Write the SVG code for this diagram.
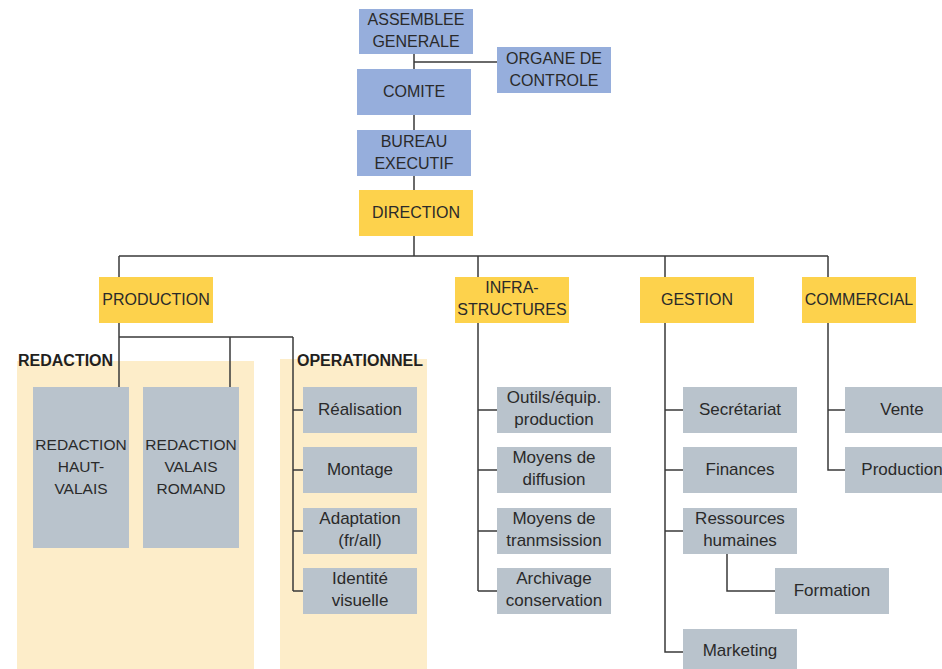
<svg xmlns="http://www.w3.org/2000/svg" width="942" height="669" viewBox="0 0 942 669">
<style>
text{font-family:"Liberation Sans",Arial,sans-serif;font-size:16px;fill:#2a2a2a;text-anchor:middle}
.lc{font-size:17px}
.rd{font-size:15.5px}
.hd{font-weight:bold;font-size:16px;text-anchor:start;fill:#231f20}
.blue{fill:#96aedc}
.yel{fill:#fdd24c}
.gry{fill:#b9c3cc}
.bg{fill:#fdedc9}
.ln{stroke:#3a3a3a;stroke-width:1.5;fill:none}
</style>
<rect width="942" height="669" fill="#ffffff"/>
<g id="group-redaction"><rect class="bg" x="17" y="361" width="237" height="308"/><text class="hd" x="18" y="366">REDACTION</text></g>
<g id="group-operationnel"><rect class="bg" x="280" y="359" width="147" height="310"/><text class="hd" x="297" y="366">OPERATIONNEL</text></g>
<g id="connectors">
<path class="ln" d="M414 54V190M414 62H497M414 236V256M119 256H828M119 256V277M478 256V277M665 256V277M828 256V277"/>
<path class="ln" d="M119 323V387M119 337H293M230 337V387M293 337V591M293 410H303M293 470H303M293 531H303M293 591H303"/>
<path class="ln" d="M478 323V591M478 410H497M478 470H497M478 531H497M478 591H497"/>
<path class="ln" d="M665 323V652H683M665 410H683M665 470H683M665 531H683M727 554V591H775"/>
<path class="ln" d="M828 323V470H845M828 410H845"/>
</g>
<g id="assemblee"><rect class="blue" x="359" y="9" width="114" height="45"/><text x="416" y="25">ASSEMBLEE</text><text x="416" y="47">GENERALE</text></g>
<g id="organe"><rect class="blue" x="497" y="47" width="114" height="46"/><text x="554" y="63.5">ORGANE DE</text><text x="554" y="85.5">CONTROLE</text></g>
<g id="comite"><rect class="blue" x="357" y="69" width="114" height="46"/><text x="414" y="97">COMITE</text></g>
<g id="bureau"><rect class="blue" x="357" y="130" width="114" height="46"/><text x="414" y="146.5">BUREAU</text><text x="414" y="168.5">EXECUTIF</text></g>
<g id="direction"><rect class="yel" x="359" y="190" width="114" height="46"/><text x="416" y="218">DIRECTION</text></g>
<g id="production"><rect class="yel" x="99" y="277" width="114" height="46"/><text x="156" y="305">PRODUCTION</text></g>
<g id="infrastructures"><rect class="yel" x="455" y="277" width="114" height="46"/><text x="512" y="293">INFRA-</text><text x="512" y="315">STRUCTURES</text></g>
<g id="gestion"><rect class="yel" x="640" y="277" width="114" height="46"/><text x="697" y="305">GESTION</text></g>
<g id="commercial"><rect class="yel" x="802" y="277" width="114" height="46"/><text x="859" y="305">COMMERCIAL</text></g>
<g id="redaction-haut-valais"><rect class="gry" x="33" y="387" width="96" height="161"/><text class="rd" x="81" y="450">REDACTION</text><text class="rd" x="81" y="472">HAUT-</text><text class="rd" x="81" y="494">VALAIS</text></g>
<g id="redaction-valais-romand"><rect class="gry" x="143" y="387" width="96" height="161"/><text class="rd" x="191" y="450">REDACTION</text><text class="rd" x="191" y="472">VALAIS</text><text class="rd" x="191" y="494">ROMAND</text></g>
<g id="realisation"><rect class="gry" x="303" y="387" width="114" height="46"/><text class="lc" x="360" y="415">Réalisation</text></g>
<g id="montage"><rect class="gry" x="303" y="447" width="114" height="46"/><text class="lc" x="360" y="475">Montage</text></g>
<g id="adaptation"><rect class="gry" x="303" y="508" width="114" height="46"/><text class="lc" x="360" y="524">Adaptation</text><text class="lc" x="360" y="546">(fr/all)</text></g>
<g id="identite"><rect class="gry" x="303" y="568" width="114" height="46"/><text class="lc" x="360" y="584">Identité</text><text class="lc" x="360" y="606">visuelle</text></g>
<g id="outils"><rect class="gry" x="497" y="387" width="114" height="46"/><text class="lc" x="554" y="403">Outils/équip.</text><text class="lc" x="554" y="425">production</text></g>
<g id="diffusion"><rect class="gry" x="497" y="447" width="114" height="46"/><text class="lc" x="554" y="463">Moyens de</text><text class="lc" x="554" y="485">diffusion</text></g>
<g id="transmission"><rect class="gry" x="497" y="508" width="114" height="46"/><text class="lc" x="554" y="524">Moyens de</text><text class="lc" x="554" y="546">tranmsission</text></g>
<g id="archivage"><rect class="gry" x="497" y="568" width="114" height="46"/><text class="lc" x="554" y="584">Archivage</text><text class="lc" x="554" y="606">conservation</text></g>
<g id="secretariat"><rect class="gry" x="683" y="387" width="114" height="46"/><text class="lc" x="740" y="415">Secrétariat</text></g>
<g id="finances"><rect class="gry" x="683" y="447" width="114" height="46"/><text class="lc" x="740" y="475">Finances</text></g>
<g id="ressources"><rect class="gry" x="683" y="508" width="114" height="46"/><text class="lc" x="740" y="524">Ressources</text><text class="lc" x="740" y="546">humaines</text></g>
<g id="formation"><rect class="gry" x="775" y="568" width="114" height="46"/><text class="lc" x="832" y="596">Formation</text></g>
<g id="marketing"><rect class="gry" x="683" y="629" width="114" height="46"/><text class="lc" x="740" y="656">Marketing</text></g>
<g id="vente"><rect class="gry" x="845" y="387" width="114" height="46"/><text class="lc" x="902" y="415">Vente</text></g>
<g id="production-com"><rect class="gry" x="845" y="447" width="114" height="46"/><text class="lc" x="902" y="475">Production</text></g>
</svg>
